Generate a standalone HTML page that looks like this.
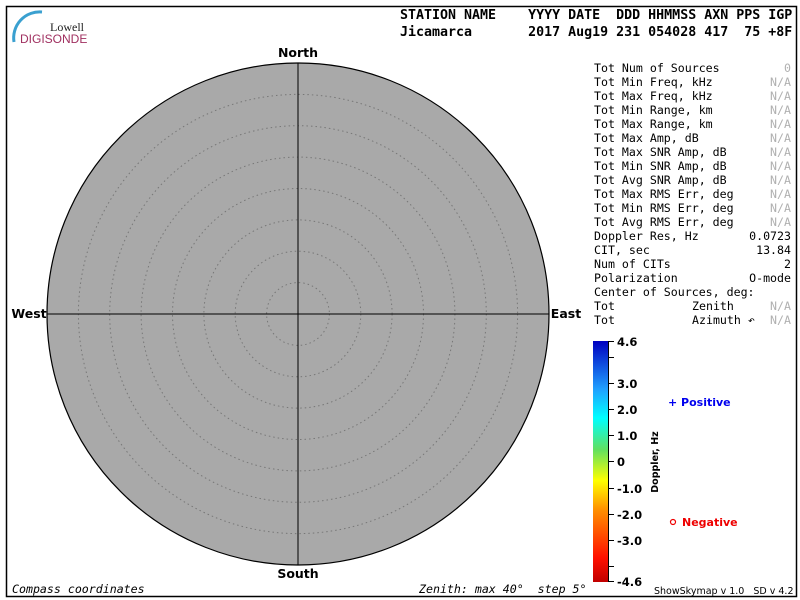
<!DOCTYPE html>
<html><head><meta charset="utf-8"><style>
html,body{margin:0;padding:0;background:#fff;}
svg{display:block;}
text{white-space:pre;}
.m{font-family:"DejaVu Sans Mono","Liberation Mono",monospace;font-size:11.6px;fill:#000;}
.g{fill:#b0b0b0;}
.h{font-family:"DejaVu Sans Mono","Liberation Mono",monospace;font-size:13.3px;font-weight:bold;fill:#000;}
.b{font-family:"DejaVu Sans","Liberation Sans",sans-serif;font-size:12.5px;font-weight:bold;fill:#000;}
</style></head><body>
<svg width="800" height="600" viewBox="0 0 800 600" xmlns="http://www.w3.org/2000/svg">
<defs>
<linearGradient id="cb" x1="0" y1="1" x2="0" y2="0">
<stop offset="0" stop-color="#c00000"/>
<stop offset="0.1" stop-color="#ff1000"/>
<stop offset="0.3" stop-color="#ff9000"/>
<stop offset="0.42" stop-color="#ffff00"/>
<stop offset="0.55" stop-color="#60e060"/>
<stop offset="0.68" stop-color="#00ffff"/>
<stop offset="0.8" stop-color="#20a0ff"/>
<stop offset="1" stop-color="#0000c0"/>
</linearGradient>
</defs>
<rect x="6.5" y="6.5" width="790" height="590" fill="none" stroke="#000" stroke-width="1.5"/>
<!-- logo -->
<path d="M14 42 A26 26 0 0 1 42 12" fill="none" stroke="#3aa0d0" stroke-width="3"/>
<text x="50" y="31" font-family="Liberation Serif,serif" font-size="12" fill="#222">Lowell</text>
<text x="20" y="43" font-family="Liberation Sans,sans-serif" font-size="12" fill="#a03060">DIGISONDE</text>
<text class="h" x="400" y="19">STATION NAME    YYYY DATE  DDD HHMMSS AXN PPS IGP</text>
<text class="h" x="400" y="36">Jicamarca       2017 Aug19 231 054028 417  75 +8F</text>
<!-- sky circle -->
<circle cx="298" cy="314" r="251" fill="#a9a9a9" stroke="#000" stroke-width="1.2"/>
<g fill="none" stroke="#777" stroke-width="1" stroke-dasharray="1.5 3">
<circle cx="298" cy="314" r="31.4"/><circle cx="298" cy="314" r="62.8"/>
<circle cx="298" cy="314" r="94.1"/><circle cx="298" cy="314" r="125.5"/>
<circle cx="298" cy="314" r="156.9"/><circle cx="298" cy="314" r="188.3"/>
<circle cx="298" cy="314" r="219.6"/>
</g>
<line x1="298" y1="63" x2="298" y2="565" stroke="#000" stroke-width="1"/>
<line x1="47" y1="314" x2="549" y2="314" stroke="#000" stroke-width="1"/>
<text class="b" x="298" y="57" text-anchor="middle">North</text>
<text class="b" x="298" y="578" text-anchor="middle">South</text>
<text class="b" x="29" y="318" text-anchor="middle">West</text>
<text class="b" x="566" y="318" text-anchor="middle">East</text>
<text class="m" x="12" y="593" font-style="italic">Compass coordinates</text>
<text class="m" x="419" y="593" font-style="italic">Zenith: max 40°  step 5°</text>
<!-- right panel -->
<g class="m">
<text x="594" y="72">Tot Num of Sources</text><text class="m g" x="791" y="72" text-anchor="end">0</text>
<text x="594" y="86">Tot Min Freq, kHz</text><text class="m g" x="791" y="86" text-anchor="end">N/A</text>
<text x="594" y="100">Tot Max Freq, kHz</text><text class="m g" x="791" y="100" text-anchor="end">N/A</text>
<text x="594" y="114">Tot Min Range, km</text><text class="m g" x="791" y="114" text-anchor="end">N/A</text>
<text x="594" y="128">Tot Max Range, km</text><text class="m g" x="791" y="128" text-anchor="end">N/A</text>
<text x="594" y="142">Tot Max Amp, dB</text><text class="m g" x="791" y="142" text-anchor="end">N/A</text>
<text x="594" y="156">Tot Max SNR Amp, dB</text><text class="m g" x="791" y="156" text-anchor="end">N/A</text>
<text x="594" y="170">Tot Min SNR Amp, dB</text><text class="m g" x="791" y="170" text-anchor="end">N/A</text>
<text x="594" y="184">Tot Avg SNR Amp, dB</text><text class="m g" x="791" y="184" text-anchor="end">N/A</text>
<text x="594" y="198">Tot Max RMS Err, deg</text><text class="m g" x="791" y="198" text-anchor="end">N/A</text>
<text x="594" y="212">Tot Min RMS Err, deg</text><text class="m g" x="791" y="212" text-anchor="end">N/A</text>
<text x="594" y="226">Tot Avg RMS Err, deg</text><text class="m g" x="791" y="226" text-anchor="end">N/A</text>
<text x="594" y="240">Doppler Res, Hz</text><text x="791" y="240" text-anchor="end">0.0723</text>
<text x="594" y="254">CIT, sec</text><text x="791" y="254" text-anchor="end">13.84</text>
<text x="594" y="268">Num of CITs</text><text x="791" y="268" text-anchor="end">2</text>
<text x="594" y="282">Polarization</text><text x="791" y="282" text-anchor="end">O-mode</text>
<text x="594" y="296">Center of Sources, deg:</text>
<text x="594" y="310">Tot</text><text x="692" y="310">Zenith</text><text class="m g" x="791" y="310" text-anchor="end">N/A</text>
<text x="594" y="324">Tot</text><text x="692" y="324">Azimuth ↶</text><text class="m g" x="791" y="324" text-anchor="end">N/A</text>
</g>
<!-- colorbar -->
<rect x="593" y="341" width="15" height="241" fill="url(#cb)"/>
<line x1="608.5" y1="341" x2="608.5" y2="582" stroke="#000"/>
<g stroke="#000">
<line x1="608" y1="341.5" x2="614" y2="341.5"/><line x1="608" y1="357.5" x2="614" y2="357.5"/>
<line x1="608" y1="383.5" x2="614" y2="383.5"/><line x1="608" y1="409.5" x2="614" y2="409.5"/>
<line x1="608" y1="435.5" x2="614" y2="435.5"/><line x1="608" y1="461.5" x2="614" y2="461.5"/>
<line x1="608" y1="488.5" x2="614" y2="488.5"/><line x1="608" y1="514.5" x2="614" y2="514.5"/>
<line x1="608" y1="540.5" x2="614" y2="540.5"/><line x1="608" y1="566.5" x2="614" y2="566.5"/>
<line x1="608" y1="581.5" x2="614" y2="581.5"/>
</g>
<g font-family="DejaVu Sans,sans-serif" font-size="11.5" font-weight="bold" fill="#000">
<text x="617" y="346">4.6</text><text x="617" y="388">3.0</text><text x="617" y="414">2.0</text>
<text x="617" y="440">1.0</text><text x="617" y="466">0</text><text x="617" y="493">-1.0</text>
<text x="617" y="519">-2.0</text><text x="617" y="545">-3.0</text><text x="617" y="586">-4.6</text>
</g>
<text transform="translate(658,462) rotate(-90)" text-anchor="middle" font-family="DejaVu Sans,sans-serif" font-size="9.5" font-weight="bold">Doppler, Hz</text>
<text x="668" y="406" font-family="DejaVu Sans,sans-serif" font-size="11" font-weight="bold" fill="#0000ee">+ Positive</text>
<circle cx="673" cy="522" r="2.5" fill="none" stroke="#ee0000" stroke-width="1.2"/>
<text x="682" y="526" font-family="DejaVu Sans,sans-serif" font-size="11" font-weight="bold" fill="#ee0000">Negative</text>
<text x="654" y="594" font-family="DejaVu Sans,sans-serif" font-size="9.5" fill="#000">ShowSkymap v 1.0   SD v 4.2</text>
</svg>
</body></html>
